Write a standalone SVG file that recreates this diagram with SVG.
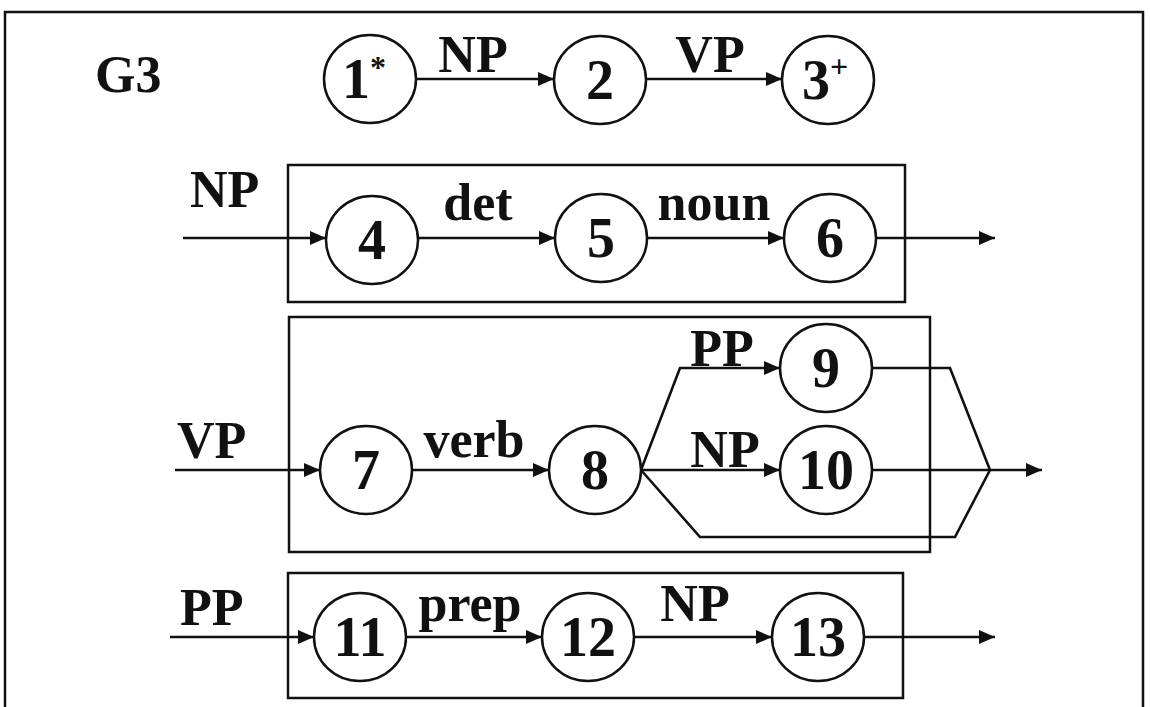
<svg xmlns="http://www.w3.org/2000/svg" width="1150" height="707" viewBox="0 0 1150 707">
  <style>
    .t { font-family: "Liberation Serif", "Times New Roman", serif; font-weight: bold; font-size: 52px; fill: #111; }
    .c { text-anchor: middle; }
    .d { font-size: 56px; }
    .sup { font-size: 32px; }
    .node ellipse { fill: #fff; stroke: #111; stroke-width: 2.5; }
    .box { fill: none; stroke: #111; stroke-width: 2.5; }
    .edge { fill: none; stroke: #111; stroke-width: 2.6; }
  </style>
  <defs>
    <marker id="ah" viewBox="0 0 16 14" refX="16" refY="7" markerWidth="16" markerHeight="14" markerUnits="userSpaceOnUse" orient="auto">
      <path d="M0,0 L16,7 L0,14 Z" fill="#111"/>
    </marker>
  </defs>
  <rect width="1150" height="707" fill="#fff"/>

  <!-- outer frame, open at the bottom -->
  <path class="box" d="M5,707 V12 H1143 V707"/>

  <!-- sub-network boxes -->
  <g id="boxes">
    <rect class="box" x="288" y="165" width="617" height="137"/>
    <rect class="box" x="289" y="317" width="641" height="235"/>
    <rect class="box" x="288" y="573" width="615" height="125"/>
  </g>

  <!-- connectors -->
  <g id="connectors">
    <path class="edge" d="M416,79 H554" marker-end="url(#ah)"/>
    <path class="edge" d="M646,79 H782" marker-end="url(#ah)"/>

    <path class="edge" d="M183,238 H326" marker-end="url(#ah)"/>
    <path class="edge" d="M418,238 H555" marker-end="url(#ah)"/>
    <path class="edge" d="M647,238 H784" marker-end="url(#ah)"/>
    <path class="edge" d="M876,238 H995" marker-end="url(#ah)"/>

    <path class="edge" d="M175,470 H320" marker-end="url(#ah)"/>
    <path class="edge" d="M412,470 H549" marker-end="url(#ah)"/>
    <path class="edge" d="M641,470 L680,368 H780" marker-end="url(#ah)"/>
    <path class="edge" d="M641,470 H780" marker-end="url(#ah)"/>
    <path class="edge" d="M641,470 L700,537 H955 L990,470"/>
    <path class="edge" d="M872,368 H950 L990,470"/>
    <path class="edge" d="M872,470 H1042" marker-end="url(#ah)"/>

    <path class="edge" d="M170,637 H314" marker-end="url(#ah)"/>
    <path class="edge" d="M406,637 H542" marker-end="url(#ah)"/>
    <path class="edge" d="M634,637 H772" marker-end="url(#ah)"/>
    <path class="edge" d="M864,637 H995" marker-end="url(#ah)"/>
  </g>

  <!-- arc and entry labels -->
  <g id="labels">
    <text class="t" x="95" y="92">G3</text>
    <text class="t c" x="473" y="72">NP</text>
    <text class="t c" x="710" y="72">VP</text>
    <text class="t" x="190" y="207">NP</text>
    <text class="t c" x="478" y="220">det</text>
    <text class="t c" x="714" y="220">noun</text>
    <text class="t" x="177" y="458">VP</text>
    <text class="t c" x="474" y="457">verb</text>
    <text class="t c" x="722" y="366">PP</text>
    <text class="t c" x="725" y="467">NP</text>
    <text class="t" x="180" y="625">PP</text>
    <text class="t c" x="470" y="621">prep</text>
    <text class="t c" x="695" y="621">NP</text>
  </g>

  <!-- states -->
  <g id="n1" class="node"><ellipse cx="370" cy="79" rx="46" ry="44"/><text class="t d c" x="364" y="98">1<tspan class="sup" dy="-20">*</tspan></text></g>
  <g id="n2" class="node"><ellipse cx="600" cy="80" rx="46" ry="44"/><text class="t d c" x="600" y="99">2</text></g>
  <g id="n3" class="node"><ellipse cx="828" cy="80" rx="46" ry="44"/><text class="t d c" x="825" y="99">3<tspan class="sup" dy="-22">+</tspan></text></g>

  <g id="n4" class="node"><ellipse cx="372" cy="240" rx="46" ry="44"/><text class="t d c" x="372" y="259">4</text></g>
  <g id="n5" class="node"><ellipse cx="601" cy="238" rx="46" ry="44"/><text class="t d c" x="601" y="257">5</text></g>
  <g id="n6" class="node"><ellipse cx="830" cy="238" rx="46" ry="44"/><text class="t d c" x="830" y="257">6</text></g>

  <g id="n7" class="node"><ellipse cx="366" cy="470" rx="46" ry="44"/><text class="t d c" x="366" y="489">7</text></g>
  <g id="n8" class="node"><ellipse cx="595" cy="470" rx="46" ry="44"/><text class="t d c" x="595" y="489">8</text></g>
  <g id="n9" class="node"><ellipse cx="826" cy="368" rx="46" ry="44"/><text class="t d c" x="826" y="387">9</text></g>
  <g id="n10" class="node"><ellipse cx="826" cy="470" rx="46" ry="44"/><text class="t d c" x="826" y="489">10</text></g>

  <g id="n11" class="node"><ellipse cx="360" cy="637" rx="46" ry="44"/><text class="t d c" x="360" y="656">11</text></g>
  <g id="n12" class="node"><ellipse cx="588" cy="637" rx="46" ry="44"/><text class="t d c" x="588" y="656">12</text></g>
  <g id="n13" class="node"><ellipse cx="818" cy="637" rx="46" ry="44"/><text class="t d c" x="818" y="656">13</text></g>
</svg>
